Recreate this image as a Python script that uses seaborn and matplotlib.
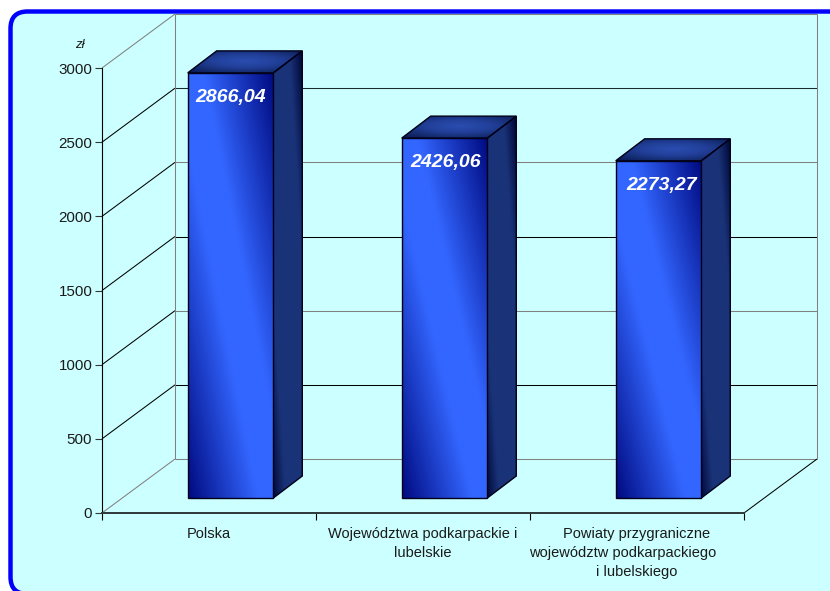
import numpy as np
import matplotlib
matplotlib.use("Agg")
import matplotlib.pyplot as plt
import seaborn as sns
from matplotlib.colors import LinearSegmentedColormap
from matplotlib.patches import FancyBboxPatch, Polygon
from matplotlib.transforms import Affine2D, IdentityTransform

# trailing spaces on the middle line: the original has that line pushed left
categories = ["Polska",
              "Województwa podkarpackie i\nlubelskie",
              "Powiaty przygraniczne\nwojewództw podkarpackiego" + " " * 7 + "\ni lubelskiego"]
values = [2866.04, 2426.06, 2273.27]
value_labels = ["2866,04", "2426,06", "2273,27"]
y_ticks = [0, 500, 1000, 1500, 2000, 2500, 3000]
wall_colors = ["#808080", "#000000", "#808080", "#000000", "#808080", "#1a2a2a", "#808080"]
diag_colors = ["#808080", "#000000", "#000000", "#000000", "#000000", "#000000", "#808080"]

W, H = 830, 591
WALL = (73, 54)      # back wall shift from front axis, pixels
BAR = (21.5, 15)     # bar front face shift from front axis
DEPTH = (29, 22)     # bar depth
LABEL_DX = [0, 0.7, 2.2]  # value labels are not quite centred in the original

sns.set_style("white")
plt.rcParams["font.family"] = ["Liberation Sans", "DejaVu Sans"]

fig = plt.figure(figsize=(W / 100, H / 100), dpi=100, facecolor="white")

# rounded panel, runs off the right and bottom edge
panel = FancyBboxPatch((10.5, -3), 834.5, H - 11.5 + 3, boxstyle="round,pad=0,rounding_size=17",
                       transform=IdentityTransform(), facecolor="#ccffff", edgecolor="#0000ff",
                       linewidth=3.2, zorder=-1)
fig.add_artist(panel)

ax = fig.add_axes([102 / W, (H - 513) / H, 642 / W, 445 / H])
ax.patch.set_alpha(0)
sns.barplot(x=categories, y=values, width=0.4, ax=ax, color="#3366ff", saturation=1)
ax.set_xlim(-0.5, 2.5)
ax.set_ylim(0, 3000)


def shifted(shift):
    return ax.transData + Affine2D().translate(*shift)


wall_tf = shifted(WALL)
bar_tf = shifted(BAR)


def line_px(xs, ys, color, lw=0.75, z=1):
    ax.plot(xs, ys, color=color, lw=lw, transform=IdentityTransform(), clip_on=False,
            zorder=z, solid_capstyle="butt")


# walls and grid
for v, wc, dc in zip(y_ticks, wall_colors, diag_colors):
    a = ax.transData.transform((-0.5, v))
    b = wall_tf.transform((-0.5, v))
    c = wall_tf.transform((2.5, v))
    line_px([a[0], b[0]], [a[1], b[1]], dc)
    line_px([b[0], c[0]], [b[1], c[1]], wc)
for x in [-0.5, 2.5]:
    b = wall_tf.transform((x, 0))
    c = wall_tf.transform((x, 3000))
    line_px([b[0], c[0]], [b[1], c[1]], "#808080")
a = ax.transData.transform((2.5, 0))
b = wall_tf.transform((2.5, 0))
line_px([a[0], b[0]], [a[1], b[1]], "#000000")

front_cmap = LinearSegmentedColormap.from_list("front", ["#3366ff", "#000a80"])
side_cmap = LinearSegmentedColormap.from_list("side", ["#1a3378", "#000838"])
top_cmap = LinearSegmentedColormap.from_list("top", ["#2b4db0", "#22409a", "#122868", "#000a48"])


def shade(cmap, corners, field, z):
    # gradient image clipped to one face of the box
    poly = Polygon(corners, closed=True, transform=IdentityTransform(), facecolor="none",
                   edgecolor="#000018", linewidth=1.0, clip_on=False, zorder=z + 0.1)
    ax.add_patch(poly)
    xs, ys = corners[:, 0], corners[:, 1]
    im = ax.imshow(field, cmap=cmap, vmin=0, vmax=1, origin="lower", aspect="auto",
                   extent=(xs.min(), xs.max(), ys.min(), ys.max()),
                   transform=IdentityTransform(), zorder=z, interpolation="bilinear")
    im.set_clip_path(poly)
    im.set_clip_box(fig.bbox)
    return im


u, v = np.meshgrid(np.linspace(0, 1, 128), np.linspace(0, 1, 256))
front_field = np.clip((np.abs(u + v - 1) - 0.18) / 0.82, 0, 1)
side_field = np.clip((np.abs(u + v - 1) - 0.55) / 0.45, 0, 1)
top_field = np.clip(np.sqrt((2 * u - 1.0) ** 2 + (2 * v - 1.1) ** 2) / 1.7, 0, 1)

for i, bar in enumerate(ax.patches):
    x0, x1 = bar.get_x(), bar.get_x() + bar.get_width()
    h = bar.get_height()
    fl = bar_tf.transform((x0, 0))
    fr = bar_tf.transform((x1, 0))
    tl = bar_tf.transform((x0, h))
    tr = bar_tf.transform((x1, h))
    d = np.array(DEPTH)
    # front face
    shade(front_cmap, np.array([fl, fr, tr, tl]), front_field, 3)
    # right side face
    shade(side_cmap, np.array([fr, fr + d, tr + d, tr]), side_field, 2.5)
    # top face
    shade(top_cmap, np.array([tl, tr, tr + d, tl + d]), top_field, 2.5)
    bar.set_visible(False)
    ax.annotate(value_labels[i], xy=((x0 + x1) / 2, h), xycoords=bar_tf,
                xytext=(LABEL_DX[i], -17.5), textcoords="offset points", ha="center", va="center",
                color="white", fontsize=14, fontweight="bold", fontstyle="italic", zorder=5)

# axes
sns.despine(ax=ax, top=True, right=True)
ax.spines["left"].set_color("black")
ax.spines["left"].set_linewidth(0.8)
ax.spines["bottom"].set_color("#303838")
ax.spines["bottom"].set_linewidth(1.4)
ax.spines["bottom"].set_zorder(4)
ax.set_yticks(y_ticks)
ax.tick_params(axis="y", length=5, width=0.8, color="#303838", labelsize=10.9,
               labelcolor="#1a1a1a", pad=2, left=True)
ax.set_xticks([-0.5, 0.5, 1.5, 2.5], labels=[])
ax.set_xticks([0, 1, 2], labels=categories, minor=True)
ax.tick_params(axis="x", which="major", length=5, width=0.8, color="black", bottom=True)
ax.tick_params(axis="x", which="minor", length=0, labelsize=10.5, labelcolor="#1a1a1a", pad=10)
for lab in ax.get_xticklabels(minor=True):
    lab.set_linespacing(1.45)
ax.set_xlabel("")
ax.set_ylabel("")
ax.text(75, H - 44.5, "zł", transform=IdentityTransform(), ha="left", va="center", fontsize=9.5,
        fontstyle="italic", color="#1a1a1a")

fig.savefig("out.png", dpi=100, facecolor="white")
